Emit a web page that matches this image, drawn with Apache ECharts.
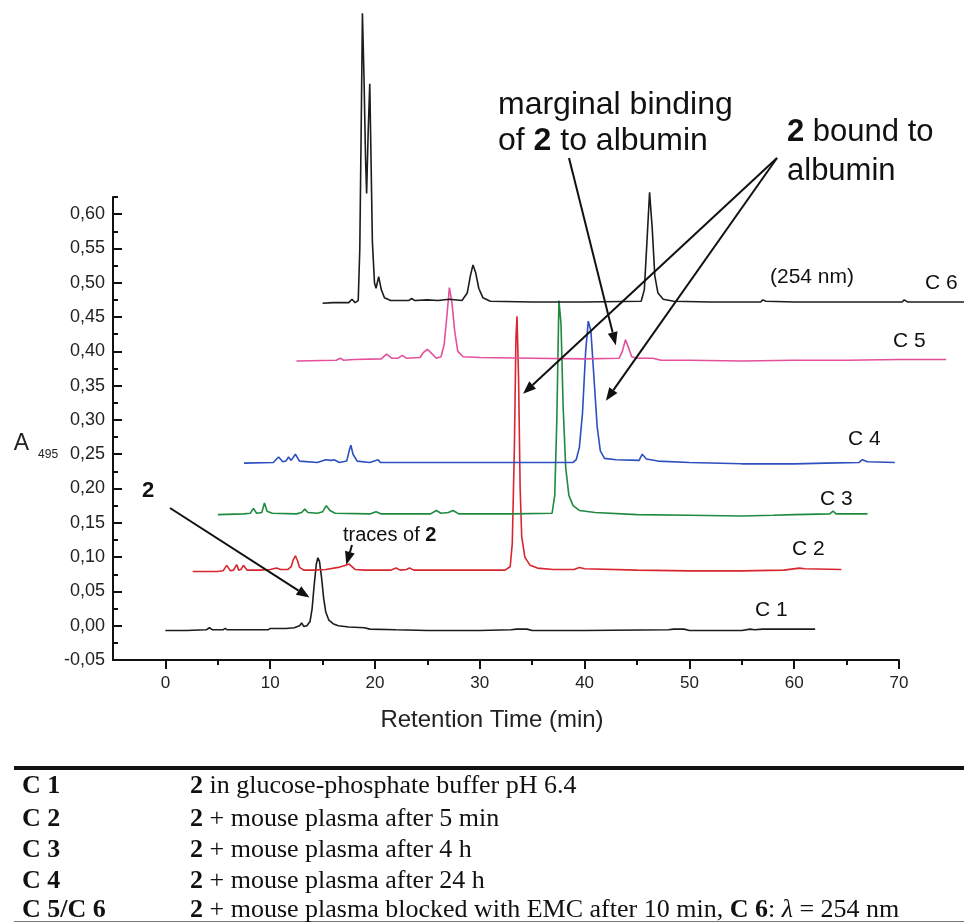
<!DOCTYPE html>
<html>
<head>
<meta charset="utf-8">
<script src="https://cdn.jsdelivr.net/npm/echarts@6/dist/echarts.min.js"></script>
<style>
html,body{margin:0;padding:0;background:#fff;}
#chart{width:964px;height:924px;}
</style>
</head>
<body>
<div id="chart"></div>
<script>
// ---- data (retention time in min, absorbance) ----
const c1 = [[0,-0.007],[2,-0.007],[3.9,-0.006],[4.2,-0.003],[4.5,-0.006],[5.5,-0.006],[5.7,-0.004],[5.9,-0.006],[8,-0.006],[9.8,-0.006],[10,-0.004],[11.5,-0.004],[12.3,-0.003],[12.8,0.0],[13.0,0.004],[13.2,-0.001],[13.5,0.0],[13.8,0.006],[14.0,0.025],[14.2,0.06],[14.4,0.09],[14.55,0.099],[14.7,0.094],[14.9,0.07],[15.1,0.04],[15.3,0.02],[15.6,0.008],[16.0,0.003],[16.5,0.0],[17.5,-0.002],[19,-0.003],[19.5,-0.005],[22,-0.006],[25,-0.007],[30,-0.007],[33,-0.006],[33.5,-0.005],[34.5,-0.005],[35,-0.007],[40,-0.007],[48,-0.006],[48.5,-0.005],[49.5,-0.005],[50,-0.007],[55,-0.007],[55.8,-0.005],[56.2,-0.006],[57,-0.005],[62,-0.005]];
const c2 = [[2.6,0.079],[5,0.079],[5.5,0.080],[5.85,0.088],[6.2,0.080],[6.5,0.081],[6.8,0.089],[7.0,0.081],[7.2,0.082],[7.45,0.088],[7.8,0.081],[9,0.081],[10,0.082],[10.6,0.084],[11,0.082],[11.7,0.082],[12.0,0.086],[12.2,0.096],[12.4,0.102],[12.6,0.095],[12.8,0.085],[13.2,0.081],[14,0.081],[15.3,0.082],[16.5,0.085],[17.2,0.088],[17.5,0.090],[17.8,0.086],[18.1,0.082],[19,0.081],[21.5,0.081],[22.0,0.084],[22.4,0.081],[23,0.082],[23.3,0.084],[23.7,0.081],[26,0.081],[30,0.081],[32.4,0.081],[32.9,0.086],[33.1,0.12],[33.3,0.26],[33.45,0.42],[33.55,0.451],[33.7,0.36],[33.85,0.2],[34.0,0.13],[34.3,0.10],[34.8,0.088],[35.5,0.084],[37,0.082],[39,0.082],[39.5,0.085],[40,0.083],[45,0.081],[50,0.080],[55,0.080],[59,0.081],[60.5,0.084],[61,0.083],[64.5,0.082]];
const c3 = [[5,0.162],[7.5,0.163],[8.1,0.164],[8.4,0.171],[8.7,0.164],[9.2,0.165],[9.45,0.179],[9.7,0.167],[10.2,0.164],[12.5,0.163],[13.0,0.165],[13.3,0.170],[13.6,0.165],[14.5,0.164],[15.0,0.166],[15.35,0.175],[15.7,0.168],[16.2,0.164],[19.5,0.163],[20.1,0.166],[20.6,0.163],[25.3,0.163],[25.85,0.168],[26.3,0.164],[27.0,0.165],[27.45,0.168],[28,0.163],[30,0.163],[33,0.163],[36.9,0.164],[37.15,0.19],[37.35,0.3],[37.55,0.474],[37.75,0.44],[37.95,0.32],[38.2,0.23],[38.5,0.19],[38.9,0.175],[39.5,0.168],[41,0.165],[45,0.162],[50,0.161],[55,0.160],[58,0.161],[60,0.162],[63.4,0.163],[63.7,0.167],[64.0,0.163],[67,0.163]];
const c4 = [[7.5,0.237],[10.3,0.238],[10.8,0.246],[11.2,0.239],[11.5,0.240],[11.75,0.246],[12.0,0.241],[12.4,0.250],[12.8,0.240],[14.5,0.238],[15.3,0.242],[15.8,0.241],[16.1,0.242],[16.6,0.238],[17.3,0.240],[17.55,0.256],[17.7,0.263],[17.9,0.250],[18.3,0.240],[19.5,0.238],[20.3,0.242],[20.5,0.238],[25,0.238],[30,0.238],[35,0.238],[38.9,0.238],[39.2,0.242],[39.5,0.26],[39.8,0.31],[40.1,0.40],[40.35,0.444],[40.6,0.43],[40.9,0.36],[41.2,0.29],[41.5,0.255],[41.9,0.244],[43,0.242],[45.2,0.241],[45.5,0.250],[45.9,0.243],[47,0.240],[50,0.238],[55,0.236],[60,0.236],[63,0.237],[66.2,0.238],[66.5,0.242],[67,0.239],[69.6,0.238]];
const c5 = [[12.5,0.386],[16.3,0.387],[16.7,0.390],[17.0,0.387],[18.0,0.388],[20.6,0.389],[21.1,0.396],[21.6,0.390],[22.2,0.390],[22.6,0.394],[23.0,0.390],[24.3,0.391],[24.6,0.398],[25.0,0.403],[25.4,0.397],[25.85,0.390],[26.3,0.392],[26.6,0.41],[26.85,0.45],[27.1,0.493],[27.35,0.47],[27.6,0.43],[27.9,0.40],[28.4,0.392],[30,0.391],[35,0.390],[40,0.389],[43.3,0.390],[43.6,0.400],[43.9,0.417],[44.2,0.405],[44.5,0.392],[45,0.390],[46.5,0.390],[47.3,0.387],[50,0.387],[55,0.386],[60,0.387],[65,0.387],[70,0.388],[74.5,0.388]];
const c6 = [[15,0.470],[16,0.471],[17.5,0.471],[17.8,0.476],[18.1,0.471],[18.4,0.474],[18.55,0.55],[18.7,0.75],[18.8,0.893],[18.95,0.80],[19.1,0.68],[19.2,0.63],[19.35,0.72],[19.5,0.79],[19.6,0.70],[19.75,0.56],[19.95,0.50],[20.1,0.492],[20.35,0.509],[20.6,0.490],[20.9,0.478],[21.5,0.474],[23.2,0.474],[23.5,0.477],[23.8,0.474],[25.0,0.475],[26,0.474],[27.1,0.476],[28.3,0.474],[28.8,0.485],[29.1,0.51],[29.35,0.526],[29.6,0.515],[29.9,0.492],[30.3,0.478],[31,0.473],[35,0.472],[40,0.472],[45.4,0.473],[45.7,0.49],[45.95,0.56],[46.2,0.632],[46.45,0.58],[46.7,0.51],[47.0,0.485],[47.5,0.476],[48.5,0.473],[52,0.472],[56.8,0.472],[57.0,0.475],[57.3,0.473],[60,0.472],[65,0.472],[70.3,0.472],[70.5,0.475],[70.8,0.472],[76.2,0.472]];

const seriesNames = ['C 1','C 2','C 3','C 4','C 5','C 6'];
const xTickLabels = [0,10,20,30,40,50,60,70];
const xMinorTicks = [5,15,25,35,45,55,65];
const yTickLabels = [-0.05,0,0.05,0.10,0.15,0.20,0.25,0.30,0.35,0.40,0.45,0.50,0.55,0.60];
const yMinorTicks = [-0.025,0.025,0.075,0.125,0.175,0.225,0.275,0.325,0.375,0.425,0.475,0.525,0.575,0.625];

const tableRows = [
  ['C 1', '{b|2} in glucose-phosphate buffer pH 6.4'],
  ['C 2', '{b|2} + mouse plasma after 5 min'],
  ['C 3', '{b|2} + mouse plasma after 4 h'],
  ['C 4', '{b|2} + mouse plasma after 24 h'],
  ['C 5/C 6', '{b|2} + mouse plasma blocked with EMC after 10 min, {b|C 6}: {i|λ} = 254 nm']
];

// ---- chart ----
const colors = ['#1c1c1c','#d8262f','#1f8a3f','#2d4fbf','#e4509b','#1c1c1c'];
const SANS = '"Liberation Sans", Arial, sans-serif';
const SERIF = '"Liberation Serif", "Times New Roman", serif';
const chart = echarts.init(document.getElementById('chart'), null, {renderer:'canvas'});
const fmt = v => v.toFixed(2).replace('.', ',');

// axes frame: x from -5 to 70 over 113..899 px; the data grid extends the same scale to 77 min
const X_MIN = -5, X_MAX = 70, X_MAX_DATA = 77;
const axisGrid = {left:113, right:65, top:197, bottom:264, outerBoundsMode:'none'};
const pxPerMin = (964 - 113 - 65) / (X_MAX - X_MIN);
const dataGridRight = 964 - (113 + pxPerMin * (X_MAX_DATA - X_MIN));
const dataGrid = {left:113, right:dataGridRight, top:197, bottom:264, outerBoundsMode:'none'};

const axisLineStyle = {color:'#111', width:2};
const tickStyle = {color:'#111', width:2};
const option = {
  animation:false,
  backgroundColor:'#fff',
  grid: [dataGrid, axisGrid],
  xAxis: [{
    gridIndex:0, type:'value', min:X_MIN, max:X_MAX_DATA, show:false
  },{
    gridIndex:1, type:'value', min:X_MIN, max:X_MAX, position:'bottom',
    axisLine:{show:true, onZero:false, lineStyle:axisLineStyle},
    axisTick:{show:true, inside:false, length:9, lineStyle:tickStyle, customValues:xTickLabels},
    axisLabel:{show:true, margin:15, fontFamily:SANS, fontSize:17, color:'#222', customValues:xTickLabels, formatter:v=>String(v)},
    splitLine:{show:false},
    name:'Retention Time (min)', nameLocation:'middle', nameGap:48,
    nameTextStyle:{fontFamily:SANS, fontSize:24, color:'#222', padding:[0,28,0,0]}
  },{
    gridIndex:1, type:'value', min:X_MIN, max:X_MAX, position:'bottom',
    axisLine:{show:false, onZero:false},
    axisTick:{show:true, inside:false, length:5, lineStyle:tickStyle, customValues:xMinorTicks},
    axisLabel:{show:false}, splitLine:{show:false}
  }],
  yAxis: [{
    gridIndex:0, type:'value', min:-0.05, max:0.625, show:false
  },{
    gridIndex:1, type:'value', min:-0.05, max:0.625, position:'left',
    axisLine:{show:true, onZero:false, lineStyle:axisLineStyle},
    axisTick:{show:true, inside:true, length:9, lineStyle:tickStyle, customValues:yTickLabels},
    axisLabel:{show:true, margin:8, fontFamily:SANS, fontSize:18, color:'#222', customValues:yTickLabels, formatter:v=>fmt(v)},
    splitLine:{show:false},
    name:'{a|A}{s|495}', nameLocation:'middle', nameRotate:0, nameGap:53,
    nameTextStyle:{padding:[30,0,0,0], rich:{a:{fontFamily:SANS, fontSize:23, color:'#222'}, s:{fontFamily:SANS, fontSize:12, color:'#222', padding:[22,0,0,9]}}}
  },{
    gridIndex:1, type:'value', min:-0.05, max:0.625, position:'left',
    axisLine:{show:false, onZero:false},
    axisTick:{show:true, inside:true, length:5, lineStyle:tickStyle, customValues:yMinorTicks},
    axisLabel:{show:false}, splitLine:{show:false}
  }],
  series: [c1,c2,c3,c4,c5,c6].map((d,i)=>({
    name: seriesNames[i], type:'line', data:d, xAxisIndex:0, yAxisIndex:0,
    showSymbol:false, symbol:'none', clip:false, smooth:false,
    lineStyle:{color:colors[i], width:1.6}, z: 2+i
  }))
};
chart.setOption(option);

// ---- annotations ----
function P(t,a){ return chart.convertToPixel({gridIndex:0}, [t,a]); }
function arrow(x1,y1,x2,y2){
  const dx=x2-x1, dy=y2-y1, L=Math.hypot(dx,dy), ux=dx/L, uy=dy/L;
  const hl=13, hw=5;
  const bx=x2-ux*hl, by=y2-uy*hl;
  return [
    {type:'line', shape:{x1:x1,y1:y1,x2:bx,y2:by}, style:{stroke:'#111', lineWidth:2}, z:100},
    {type:'polygon', shape:{points:[[x2,y2],[bx-uy*hw,by+ux*hw],[bx+uy*hw,by-ux*hw]]}, style:{fill:'#111'}, z:100}
  ];
}
function txt(text,x,y,size,opts){
  opts = opts||{};
  return {type:'text', z:100, style:Object.assign({text:text, x:x, y:y, fontFamily:SANS, fontSize:size, fill:'#111', align:'left', verticalAlign:'middle'}, opts)};
}
const g = [];
g.push(txt('C 6', 925, 283, 21));
g.push(txt('(254 nm)', 770, 277, 21));
g.push(txt('C 5', 893, 341, 21));
g.push(txt('C 4', 848, 439, 21));
g.push(txt('C 3', 820, 499, 21));
g.push(txt('C 2', 792, 549, 21));
g.push(txt('C 1', 755, 610, 21));
const bold32 = {b:{fontFamily:SANS, fontSize:32, fontWeight:'bold', fill:'#111'}};
g.push(txt('marginal binding', 498, 105, 32));
g.push(txt('of {b|2} to albumin', 498, 141, 32, {rich:bold32}));
g.push(txt('{b|2} bound to', 787, 132, 31, {rich:{b:{fontFamily:SANS, fontSize:31, fontWeight:'bold', fill:'#111'}}}));
g.push(txt('albumin', 787, 171, 31));
g.push(txt('2', 148, 491, 22, {fontWeight:'bold', align:'center'}));
g.push(txt('traces of {b|2}', 343, 535, 20, {rich:{b:{fontFamily:SANS, fontSize:20, fontWeight:'bold', fill:'#111'}}}));
let tp;
tp = P(13.75, 0.041); g.push(...arrow(170, 508, tp[0], tp[1]));
tp = P(17.26, 0.089); g.push(...arrow(352, 545, tp[0], tp[1]));
tp = P(42.98, 0.409); g.push(...arrow(569, 158, tp[0], tp[1]));
tp = P(34.13, 0.338); g.push(...arrow(777, 158, tp[0], tp[1]));
tp = P(42.03, 0.328); g.push(...arrow(777, 158, tp[0], tp[1]));
// legend table below the chart
g.push({type:'rect', shape:{x:14, y:766, width:950, height:4}, style:{fill:'#111'}, z:100});
g.push({type:'rect', shape:{x:14, y:921, width:950, height:1}, style:{fill:'#777'}, z:100});
const rowY = [786, 819, 850, 881, 910];
const serifRich = {b:{fontFamily:SERIF, fontSize:26, fontWeight:'bold', fill:'#111'}, i:{fontFamily:SERIF, fontSize:26, fontStyle:'italic', fill:'#111'}};
tableRows.forEach((r,i)=>{
  g.push({type:'text', z:100, style:{text:r[0], x:22, y:rowY[i], fontFamily:SERIF, fontSize:26, fontWeight:'bold', fill:'#111', verticalAlign:'middle'}});
  g.push({type:'text', z:100, style:{text:r[1], x:190, y:rowY[i], fontFamily:SERIF, fontSize:26, fill:'#111', verticalAlign:'middle', rich:serifRich}});
});
chart.setOption({graphic:{elements:g}});
</script>
</body>
</html>
